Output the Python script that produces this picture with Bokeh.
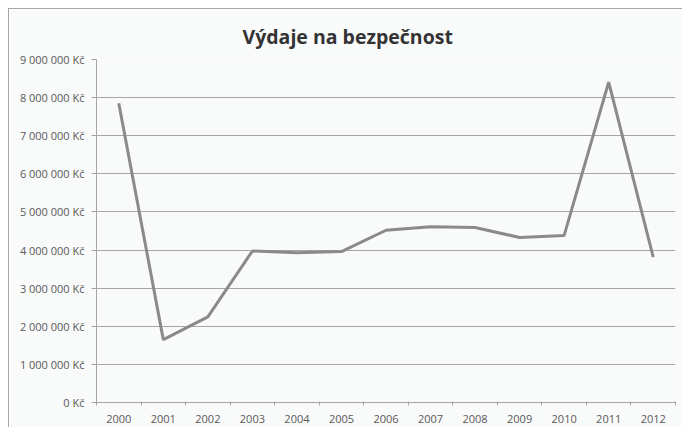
from bokeh.plotting import figure
from bokeh.models import Range1d, FixedTicker
from bokeh.embed import file_html
from bokeh.resources import INLINE

# --- data ---
years = ["2000", "2001", "2002", "2003", "2004", "2005", "2006",
         "2007", "2008", "2009", "2010", "2011", "2012"]
spending = [7850000, 1650000, 2245000, 3975000, 3930000, 3960000, 4520000,
            4610000, 4590000, 4330000, 4385000, 8405000, 3815000]
y_ticks = [0, 1000000, 2000000, 3000000, 4000000, 5000000,
           6000000, 7000000, 8000000, 9000000]
y_labels = ["0 Kč", "1 000 000 Kč", "2 000 000 Kč", "3 000 000 Kč",
            "4 000 000 Kč", "5 000 000 Kč", "6 000 000 Kč", "7 000 000 Kč",
            "8 000 000 Kč", "9 000 000 Kč"]
title_text = "Výdaje na bezpečnost"

# category positions (centers) and boundaries
xs = [i + 0.5 for i in range(len(years))]
bounds = [i for i in range(len(years) + 1)]

FONT = "Open Sans"
BG = "#f9fafa"

p = figure(width=674, height=419, output_backend="svg", toolbar_location=None,
           x_range=Range1d(0, len(years)), y_range=Range1d(0, y_ticks[-1]),
           min_border_left=87, min_border_right=8, min_border_top=50,
           min_border_bottom=26)
p.styles = {"margin-left": "8px", "margin-top": "8px",
            "border-top": "1px solid #a6a6a6", "border-left": "1px solid #a6a6a6"}
p.background_fill_color = BG
p.border_fill_color = BG
p.outline_line_color = None

p.title.text = title_text
p.title.align = "left"
p.title.offset = 146
p.title.text_font = FONT
p.title.text_font_size = "19.5px"
p.title.text_font_style = "bold"
p.title.text_color = "#333333"
p.title.standoff = 19

p.line(xs, spending, line_color="#8a8a8a", line_width=3)

# y axis
p.yaxis.ticker = FixedTicker(ticks=y_ticks)
p.yaxis.major_label_overrides = {t: l for t, l in zip(y_ticks, y_labels)}
p.yaxis.major_label_text_font = FONT
p.yaxis.major_label_text_font_size = "11px"
p.yaxis.major_label_text_color = "#595959"
p.yaxis.axis_line_color = "#a6a6a6"
p.yaxis.major_tick_line_color = "#a6a6a6"
p.yaxis.major_tick_out = 5
p.yaxis.major_tick_in = 0
p.yaxis.minor_tick_line_color = None
p.yaxis.major_label_standoff = 7

# x axis
p.xaxis.ticker = FixedTicker(ticks=xs, minor_ticks=bounds)
p.xaxis.major_label_overrides = {x: y for x, y in zip(xs, years)}
p.xaxis.major_label_text_font = FONT
p.xaxis.major_label_text_font_size = "11px"
p.xaxis.major_label_text_color = "#595959"
p.xaxis.axis_line_color = "#a6a6a6"
p.xaxis.major_tick_line_color = None
p.xaxis.major_tick_out = 0
p.xaxis.major_tick_in = 0
p.xaxis.minor_tick_line_color = "#a6a6a6"
p.xaxis.minor_tick_out = 3
p.xaxis.minor_tick_in = 1
p.xaxis.major_label_standoff = 9

p.xgrid.grid_line_color = None
p.ygrid.ticker = FixedTicker(ticks=y_ticks)
p.ygrid.grid_line_color = "#a6a6a6"

open("out.html", "w").write(file_html(p, INLINE))
